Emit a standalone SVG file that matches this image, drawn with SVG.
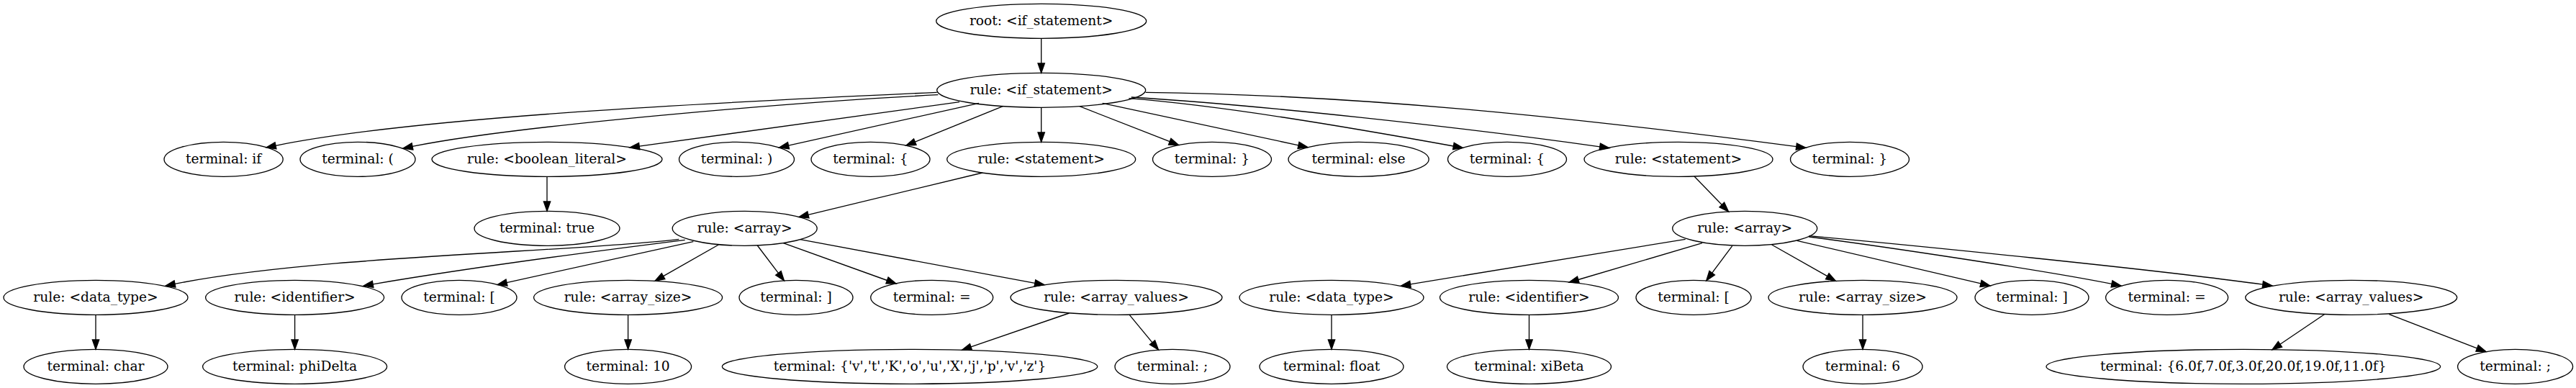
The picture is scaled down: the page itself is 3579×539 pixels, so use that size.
<svg xmlns="http://www.w3.org/2000/svg" width="3579" height="539" viewBox="0 0 3579 539">
<defs>
<style>
.node ellipse{fill:none;stroke:#000;stroke-width:1.33}
.node text{font-family:"DejaVu Serif","Liberation Serif",serif;font-size:18.67px;text-anchor:middle;fill:#000}
#edges path{fill:none;stroke:#000;stroke-width:1.33;marker-end:url(#arrow)}
</style>
<marker id="arrow" markerUnits="userSpaceOnUse" viewBox="-1 -6 16 12" markerWidth="16" markerHeight="12" refX="0" refY="0" orient="auto" overflow="visible">
<path d="M0,-4.67 L13.33,0 L0,4.67 Z" fill="#000" stroke="#000" stroke-width="1.33"/>
</marker>
</defs>
<rect width="3579" height="539" fill="#fff"/>
<g id="edges">
<path d="M1446.7,53.3 L1446.7,88"/>
<path d="M1301.7,128.3 C1000,142 579,162.3 383,202.3"/>
<path d="M1303.3,131.7 C1100,142 720,174 573,203.4"/>
<path d="M1333,141.7 L888.2,203.2"/>
<path d="M1360,143.3 L1095.5,202.2"/>
<path d="M1393.3,147.7 L1271.3,197.1"/>
<path d="M1446.7,149.3 L1446.7,184"/>
<path d="M1500,147.7 L1625.2,196.7"/>
<path d="M1531.7,143.3 L1804,201.8"/>
<path d="M1568.3,136.7 C1700,147 1871.8,176.5 2019.4,203"/>
<path d="M1571.7,135 C1750,146 2024.8,176 2222.8,203.8"/>
<path d="M1591.7,128.3 C1900,132 2198.3,164.9 2495.8,203.6"/>
<path d="M760,245.3 L760,280"/>
<path d="M1365,240 L1122.9,298.4"/>
<path d="M2354,245 L2392.3,284.5"/>
<path d="M943.3,332.3 C800,350 439,355.2 243,394.4"/>
<path d="M951.7,333.3 C850,346 666,369.6 518.1,394.8"/>
<path d="M963.3,335.7 L704,392.6"/>
<path d="M998.3,340 L921.6,383.6"/>
<path d="M1052.3,341 L1081.4,379.3"/>
<path d="M1088.3,337.7 L1232.5,389.5"/>
<path d="M1111.7,332.7 L1437.9,393.3"/>
<path d="M2341.7,332.3 L1959.5,394.9"/>
<path d="M2365,337.7 L2192.8,388.5"/>
<path d="M2406.7,341.7 L2378.7,379.2"/>
<path d="M2461.7,340 L2538.8,383.7"/>
<path d="M2496.7,334.3 L2752,393.9"/>
<path d="M2513.3,329 C2600,340 2835.9,374.8 2934,394.4"/>
<path d="M2513.3,327.7 C2650,340 2995.3,374.4 3143.8,395.2"/>
<path d="M133,437.3 L133,472"/>
<path d="M409.6,437.3 L409.6,472"/>
<path d="M872.6,437.3 L872.6,472"/>
<path d="M1485.5,435 L1349,481.9"/>
<path d="M1569,437.1 L1601,475.8"/>
<path d="M1850,437.3 L1850,472"/>
<path d="M2124.5,437.3 L2124.5,472"/>
<path d="M2588,437.3 L2588,472"/>
<path d="M3229.7,436.5 L3167.9,478.3"/>
<path d="M3319.4,436.7 L3441.6,483.8"/>
</g>
<g id="n0" class="node"><ellipse cx="1446.7" cy="29.3" rx="146" ry="24"/><text x="1446.7" y="35.3">root: &lt;if_statement&gt;</text></g>
<g id="n1" class="node"><ellipse cx="1446.7" cy="125.3" rx="145" ry="24"/><text x="1446.7" y="131.3">rule: &lt;if_statement&gt;</text></g>
<g id="n2" class="node"><ellipse cx="310.6" cy="221.3" rx="82.6" ry="24"/><text x="310.6" y="227.3">terminal: if</text></g>
<g id="n3" class="node"><ellipse cx="497" cy="221.3" rx="80" ry="24"/><text x="497" y="227.3">terminal: (</text></g>
<g id="n4" class="node"><ellipse cx="760" cy="221.3" rx="160" ry="24"/><text x="760" y="227.3">rule: &lt;boolean_literal&gt;</text></g>
<g id="n5" class="node"><ellipse cx="1023.5" cy="221.3" rx="80" ry="24"/><text x="1023.5" y="227.3">terminal: )</text></g>
<g id="n6" class="node"><ellipse cx="1209.5" cy="221.3" rx="82.5" ry="24"/><text x="1209.5" y="227.3">terminal: {</text></g>
<g id="n7" class="node"><ellipse cx="1446.7" cy="221.3" rx="131" ry="24"/><text x="1446.7" y="227.3">rule: &lt;statement&gt;</text></g>
<g id="n8" class="node"><ellipse cx="1684" cy="221.3" rx="82.5" ry="24"/><text x="1684" y="227.3">terminal: }</text></g>
<g id="n9" class="node"><ellipse cx="1887.6" cy="221.3" rx="97.6" ry="24"/><text x="1887.6" y="227.3">terminal: else</text></g>
<g id="n10" class="node"><ellipse cx="2094" cy="221.3" rx="82.5" ry="24"/><text x="2094" y="227.3">terminal: {</text></g>
<g id="n11" class="node"><ellipse cx="2332" cy="221.3" rx="131" ry="24"/><text x="2332" y="227.3">rule: &lt;statement&gt;</text></g>
<g id="n12" class="node"><ellipse cx="2570" cy="221.3" rx="82.5" ry="24"/><text x="2570" y="227.3">terminal: }</text></g>
<g id="n13" class="node"><ellipse cx="760" cy="317.3" rx="101" ry="24"/><text x="760" y="323.3">terminal: true</text></g>
<g id="n14" class="node"><ellipse cx="1034.7" cy="317.3" rx="100.5" ry="24"/><text x="1034.7" y="323.3">rule: &lt;array&gt;</text></g>
<g id="n15" class="node"><ellipse cx="2424.2" cy="317.3" rx="100.5" ry="24"/><text x="2424.2" y="323.3">rule: &lt;array&gt;</text></g>
<g id="n16" class="node"><ellipse cx="133" cy="413.3" rx="128" ry="24"/><text x="133" y="419.3">rule: &lt;data_type&gt;</text></g>
<g id="n17" class="node"><ellipse cx="409.6" cy="413.3" rx="124" ry="24"/><text x="409.6" y="419.3">rule: &lt;identifier&gt;</text></g>
<g id="n18" class="node"><ellipse cx="638" cy="413.3" rx="80" ry="24"/><text x="638" y="419.3">terminal: [</text></g>
<g id="n19" class="node"><ellipse cx="872.6" cy="413.3" rx="131" ry="24"/><text x="872.6" y="419.3">rule: &lt;array_size&gt;</text></g>
<g id="n20" class="node"><ellipse cx="1106" cy="413.3" rx="79" ry="24"/><text x="1106" y="419.3">terminal: ]</text></g>
<g id="n21" class="node"><ellipse cx="1294.7" cy="413.3" rx="85" ry="24"/><text x="1294.7" y="419.3">terminal: =</text></g>
<g id="n22" class="node"><ellipse cx="1551" cy="413.3" rx="147" ry="24"/><text x="1551" y="419.3">rule: &lt;array_values&gt;</text></g>
<g id="n23" class="node"><ellipse cx="1850" cy="413.3" rx="128" ry="24"/><text x="1850" y="419.3">rule: &lt;data_type&gt;</text></g>
<g id="n24" class="node"><ellipse cx="2124.5" cy="413.3" rx="124" ry="24"/><text x="2124.5" y="419.3">rule: &lt;identifier&gt;</text></g>
<g id="n25" class="node"><ellipse cx="2353" cy="413.3" rx="80" ry="24"/><text x="2353" y="419.3">terminal: [</text></g>
<g id="n26" class="node"><ellipse cx="2588" cy="413.3" rx="131" ry="24"/><text x="2588" y="419.3">rule: &lt;array_size&gt;</text></g>
<g id="n27" class="node"><ellipse cx="2823" cy="413.3" rx="79" ry="24"/><text x="2823" y="419.3">terminal: ]</text></g>
<g id="n28" class="node"><ellipse cx="3010.6" cy="413.3" rx="85" ry="24"/><text x="3010.6" y="419.3">terminal: =</text></g>
<g id="n29" class="node"><ellipse cx="3266.7" cy="413.3" rx="147" ry="24"/><text x="3266.7" y="419.3">rule: &lt;array_values&gt;</text></g>
<g id="n30" class="node"><ellipse cx="133" cy="509.3" rx="100" ry="24"/><text x="133" y="515.3">terminal: char</text></g>
<g id="n31" class="node"><ellipse cx="409.6" cy="509.3" rx="128" ry="24"/><text x="409.6" y="515.3">terminal: phiDelta</text></g>
<g id="n32" class="node"><ellipse cx="872.6" cy="509.3" rx="88" ry="24"/><text x="872.6" y="515.3">terminal: 10</text></g>
<g id="n33" class="node"><ellipse cx="1264" cy="509.3" rx="260.7" ry="24"/><text x="1264" y="515.3">terminal: {'v','t','K','o','u','X','j','p','v','z'}</text></g>
<g id="n34" class="node"><ellipse cx="1629" cy="509.3" rx="80" ry="24"/><text x="1629" y="515.3">terminal: ;</text></g>
<g id="n35" class="node"><ellipse cx="1850" cy="509.3" rx="100" ry="24"/><text x="1850" y="515.3">terminal: float</text></g>
<g id="n36" class="node"><ellipse cx="2124.5" cy="509.3" rx="114" ry="24"/><text x="2124.5" y="515.3">terminal: xiBeta</text></g>
<g id="n37" class="node"><ellipse cx="2588" cy="509.3" rx="83" ry="24"/><text x="2588" y="515.3">terminal: 6</text></g>
<g id="n38" class="node"><ellipse cx="3116.8" cy="509.3" rx="273.8" ry="24"/><text x="3116.8" y="515.3">terminal: {6.0f,7.0f,3.0f,20.0f,19.0f,11.0f}</text></g>
<g id="n39" class="node"><ellipse cx="3494.6" cy="509.3" rx="80" ry="24"/><text x="3494.6" y="515.3">terminal: ;</text></g>
</svg>
